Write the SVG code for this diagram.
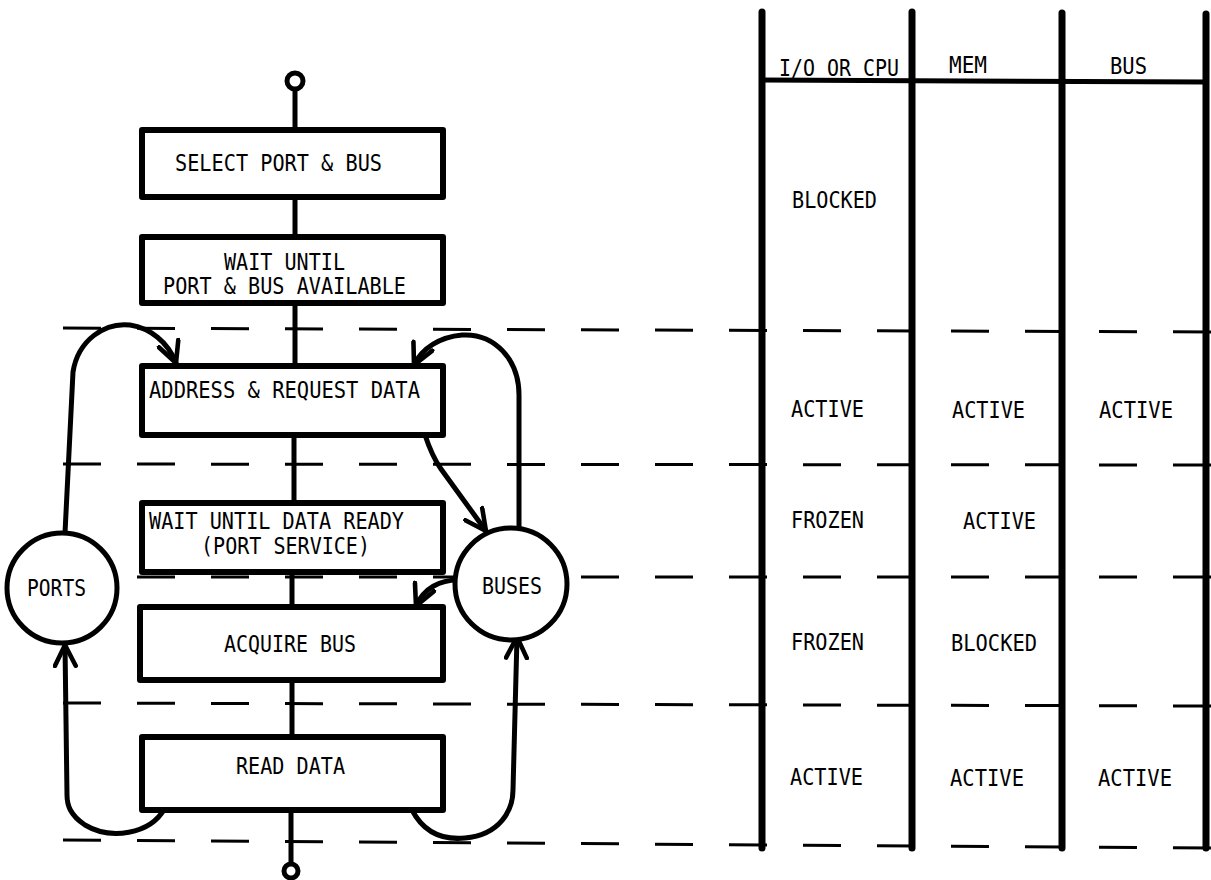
<svg xmlns="http://www.w3.org/2000/svg" width="1211" height="880" viewBox="0 0 1211 880">
<style>
text{font-family:"DejaVu Sans Mono","Liberation Mono",monospace;font-size:23px;fill:#000}
.box{fill:#fff;stroke:#000;stroke-width:6;stroke-linejoin:round}
.circ{fill:#fff;stroke:#000;stroke-width:5}
.ln{fill:none;stroke:#000;stroke-width:5;stroke-linecap:round}
.dash{fill:none;stroke:#000;stroke-width:3;stroke-dasharray:38 36}
.col{stroke:#000;stroke-width:7;stroke-linecap:round}
</style>
<defs>
<marker id="ah" viewBox="0 0 12 12" refX="11" refY="6" markerWidth="5" markerHeight="5" orient="auto" markerUnits="strokeWidth">
<path d="M1,1 L11,6 L1,11" fill="none" stroke="#000" stroke-width="2.2" stroke-linecap="round" stroke-linejoin="round"/>
</marker>
</defs>
<g id="dashed-lines">
<line class="dash" x1="63" y1="328" x2="1211" y2="332"/>
<line class="dash" x1="63" y1="464" x2="1211" y2="465"/>
<line class="dash" x1="63" y1="577" x2="1211" y2="577"/>
<line class="dash" x1="63" y1="703" x2="1211" y2="706"/>
<line class="dash" x1="63" y1="840" x2="1211" y2="848"/>
</g>
<g id="connectors">
<circle class="ln" cx="295" cy="81" r="8"/>
<line class="ln" x1="295" y1="90" x2="295" y2="130"/>
<line class="ln" x1="295" y1="197" x2="295" y2="237"/>
<line class="ln" x1="295" y1="303" x2="295" y2="366"/>
<line class="ln" x1="294" y1="435" x2="294" y2="503"/>
<line class="ln" x1="292" y1="572" x2="292" y2="607"/>
<line class="ln" x1="292" y1="680" x2="292" y2="737"/>
<line class="ln" x1="291" y1="810" x2="291" y2="863"/>
<circle class="ln" cx="291" cy="871" r="7"/>
<path class="ln" marker-end="url(#ah)" d="M65,533 L73,372 C78,340 105,322 130,325 C150,328 168,342 176,363"/>
<path class="ln" marker-end="url(#ah)" d="M519,528 L519,395 C519,360 495,333 462,335 C440,337 422,348 414,365"/>
<path class="ln" marker-end="url(#ah)" d="M425,435 C430,450 436,462 441,469 L486,531"/>
<path class="ln" marker-end="url(#ah)" d="M458,580 C440,580 424,588 416,606"/>
<path class="ln" marker-end="url(#ah)" d="M165,808 C150,835 110,840 85,825 C70,815 67,805 67,795 L65,645"/>
<path class="ln" marker-end="url(#ah)" d="M412,810 C425,835 445,840 465,838 C500,835 513,810 513,790 L517,637"/>
</g>
<g id="n-select">
<rect class="box" x="142" y="130" width="301" height="67"/>
<text x="175" y="171" textLength="207" lengthAdjust="spacingAndGlyphs">SELECT PORT &amp; BUS</text>
</g>
<g id="n-wait-port">
<rect class="box" x="142" y="237" width="301" height="66"/>
<text x="224" y="270" textLength="121" lengthAdjust="spacingAndGlyphs">WAIT UNTIL</text>
<text x="163" y="294" textLength="243" lengthAdjust="spacingAndGlyphs">PORT &amp; BUS AVAILABLE</text>
</g>
<g id="n-address">
<rect class="box" x="142" y="366" width="301" height="69"/>
<text x="149" y="398" textLength="271" lengthAdjust="spacingAndGlyphs">ADDRESS &amp; REQUEST DATA</text>
</g>
<g id="n-wait-data">
<rect class="box" x="142" y="503" width="301" height="69"/>
<text x="149" y="529" textLength="255" lengthAdjust="spacingAndGlyphs">WAIT UNTIL DATA READY</text>
<text x="201" y="554" textLength="169" lengthAdjust="spacingAndGlyphs">(PORT SERVICE)</text>
</g>
<g id="n-acquire">
<rect class="box" x="140" y="607" width="303" height="73"/>
<text x="224" y="652" textLength="132" lengthAdjust="spacingAndGlyphs">ACQUIRE BUS</text>
</g>
<g id="n-read">
<rect class="box" x="142" y="737" width="301" height="73"/>
<text x="236" y="774" textLength="109" lengthAdjust="spacingAndGlyphs">READ DATA</text>
</g>
<g id="n-ports">
<circle class="circ" cx="62" cy="588" r="55"/>
<text x="27" y="596" textLength="59" lengthAdjust="spacingAndGlyphs">PORTS</text>
</g>
<g id="n-buses">
<circle class="circ" cx="511" cy="584" r="56"/>
<text x="482" y="594" textLength="60" lengthAdjust="spacingAndGlyphs">BUSES</text>
</g>
<g id="table">
<line class="col" x1="762" y1="12" x2="762" y2="848"/>
<line class="col" x1="912" y1="12" x2="912" y2="848"/>
<line class="col" x1="1062" y1="13" x2="1062" y2="848"/>
<line class="col" x1="1206" y1="14" x2="1206" y2="848"/>
<line x1="762" y1="80" x2="1206" y2="82" stroke="#000" stroke-width="5"/>
<text x="779" y="76" textLength="120" lengthAdjust="spacingAndGlyphs">I/O OR CPU</text>
<text x="949" y="73" textLength="38" lengthAdjust="spacingAndGlyphs">MEM</text>
<text x="1110" y="74" textLength="37" lengthAdjust="spacingAndGlyphs">BUS</text>
<text x="792" y="208" textLength="85" lengthAdjust="spacingAndGlyphs">BLOCKED</text>
<text x="791" y="417" textLength="73" lengthAdjust="spacingAndGlyphs">ACTIVE</text>
<text x="952" y="418" textLength="73" lengthAdjust="spacingAndGlyphs">ACTIVE</text>
<text x="1099" y="418" textLength="74" lengthAdjust="spacingAndGlyphs">ACTIVE</text>
<text x="791" y="528" textLength="73" lengthAdjust="spacingAndGlyphs">FROZEN</text>
<text x="963" y="529" textLength="73" lengthAdjust="spacingAndGlyphs">ACTIVE</text>
<text x="791" y="650" textLength="73" lengthAdjust="spacingAndGlyphs">FROZEN</text>
<text x="951" y="651" textLength="86" lengthAdjust="spacingAndGlyphs">BLOCKED</text>
<text x="790" y="785" textLength="73" lengthAdjust="spacingAndGlyphs">ACTIVE</text>
<text x="950" y="786" textLength="74" lengthAdjust="spacingAndGlyphs">ACTIVE</text>
<text x="1098" y="786" textLength="74" lengthAdjust="spacingAndGlyphs">ACTIVE</text>
</g>
</svg>
